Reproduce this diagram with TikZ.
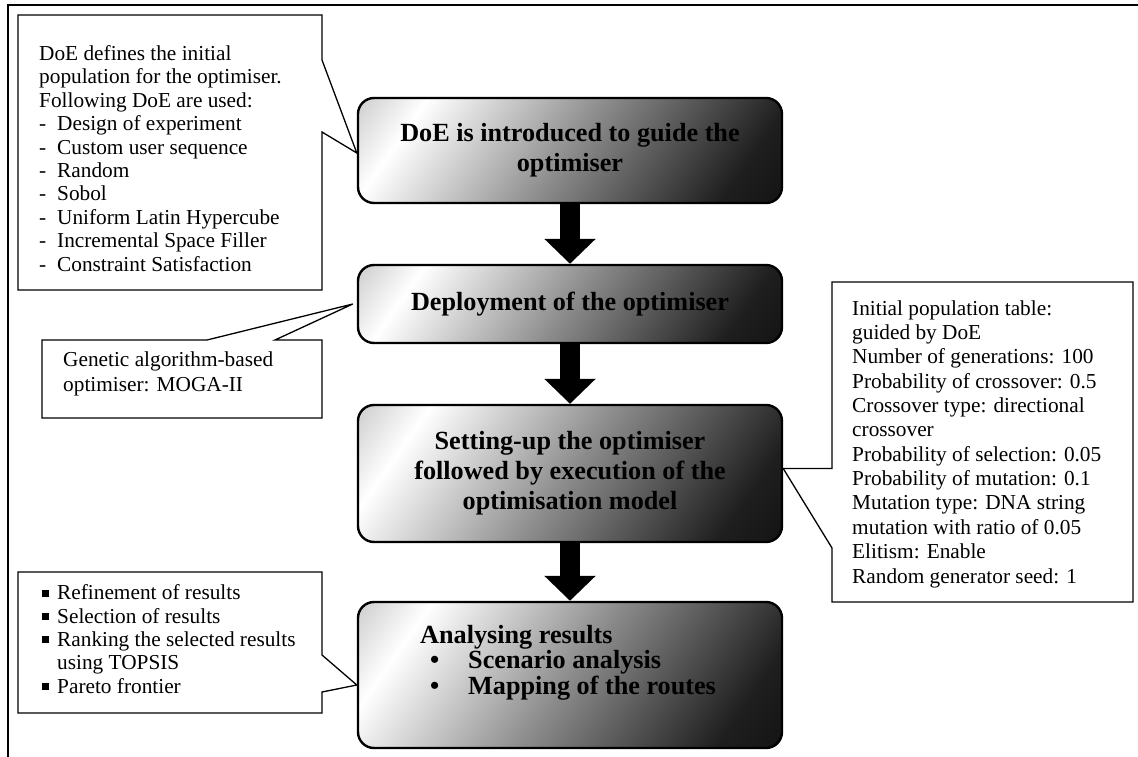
\documentclass[tikz,border=0pt]{standalone}
\usepackage{fontspec}
\setmainfont{Liberation Serif}
\usetikzlibrary{arrows.meta,calc}
\pgfdeclarehorizontalshading{boxshade}{100bp}{color(0bp)=(black!50); color(25bp)=(white); color(50bp)=(black!45); color(76bp)=(black!88); color(100bp)=(black)}
\begin{document}
\begin{tikzpicture}[x=1pt,y=-1pt,
  procbox/.style={draw=black, line width=2.4pt, rounded corners=16pt, shade, shading=boxshade, shading angle=-35, minimum width=424pt, align=center, font=\fontsize{26.2}{30}\selectfont\bfseries, inner sep=0pt},
  callout/.style={draw=black, line width=1.3pt, fill=white},
  calltext/.style={anchor=base west, align=left, inner sep=0pt, font=\fontsize{21.3}{23.4}\selectfont},
  flowarrow/.style={line width=20pt, -{Triangle[width=50pt,length=25pt]}},
]
\useasboundingbox (0,0) rectangle (1138,757);
\fill[white] (0,0) rectangle (1138,757);
\draw[line width=2.7pt] (8,757) -- (8,5) -- (1138,5);

% process boxes
\node[procbox, minimum height=105pt] (b1) at (570,150.5) {DoE is introduced to guide the\\optimiser};
\node[procbox, minimum height=78pt] (b2) at (570,304) {Deployment of the optimiser};
\node[procbox, minimum height=137pt] (b3) at (570,473.5) {Setting-up the optimiser\\followed by execution of the\\optimisation model};
\node[procbox, minimum height=146pt] (b4) at (570,675) {};
% (base anchor of a multi-line node = baseline of its last line)
\node[anchor=base west, align=left, inner sep=0pt, font=\fontsize{26.2}{25.5}\selectfont\bfseries] (b4t) at (420,694)
  {Analysing results\\\hspace*{10pt}\makebox[38pt][l]{•}Scenario analysis\\\hspace*{10pt}\makebox[38pt][l]{•}Mapping of the routes};

% flow arrows
\draw[flowarrow] (b1.south) -- (b2.north);
\draw[flowarrow] (b2.south) -- (b3.north);
\draw[flowarrow] (b3.south) -- (b4.north);

% callout outlines
\coordinate (tip1) at ([yshift=-2.5pt]b1.west);
\coordinate (tip2) at ([xshift=-4pt]b2.west);
\coordinate (tip3) at ([yshift=5pt]b3.east);
\coordinate (tip4) at ([yshift=-10pt]b4.west);
\coordinate (c3) at (832,282);
\draw[callout] (18,15) -- (322,15) -- (322,60) -- (tip1) -- (322,132) -- (322,290) -- (18,290) -- cycle;
\draw[callout] (42,340) -- (207,340) -- (tip2) -- (275,340) -- (322,340) -- (322,418) -- (42,418) -- cycle;
\draw[callout] (c3) -- (1133,282) -- (1133,602) -- (832,602) -- (832,548) -- (tip3) -- (tip3 -| c3) -- cycle;
\draw[callout] (18,572) -- (322,572) -- (322,655) -- (tip4) -- (322,692) -- (322,713) -- (18,713) -- cycle;

% callout texts
\node[calltext] (t1) at (39,271) {DoE defines the initial\\population for the optimiser.\\Following DoE are used:\\
\makebox[18pt][l]{-}Design of experiment\\
\makebox[18pt][l]{-}Custom user sequence\\
\makebox[18pt][l]{-}Random\\
\makebox[18pt][l]{-}Sobol\\
\makebox[18pt][l]{-}Uniform Latin Hypercube\\
\makebox[18pt][l]{-}Incremental Space Filler\\
\makebox[18pt][l]{-}Constraint Satisfaction};
\node[calltext, font=\fontsize{21.3}{24.4}\selectfont] (t2) at (63,391) {Genetic algorithm-based\\optimiser: MOGA-II};
\node[calltext, font=\fontsize{21.3}{24.36}\selectfont] (t3) at (852,583) {Initial population table:\\guided by DoE\\Number of generations: 100\\Probability of crossover: 0.5\\Crossover type: directional\\crossover\\Probability of selection: 0.05\\Probability of mutation: 0.1\\Mutation type: DNA string\\mutation with ratio of 0.05\\Elitism: Enable\\Random generator seed: 1};
\node[calltext, font=\fontsize{21.3}{23.3}\selectfont] (t4) at (42,693) {\makebox[15pt][l]{\rule[3pt]{7pt}{7pt}}Refinement of results\\
\makebox[15pt][l]{\rule[3pt]{7pt}{7pt}}Selection of results\\
\makebox[15pt][l]{\rule[3pt]{7pt}{7pt}}Ranking the selected results\\
\hspace*{15pt}using TOPSIS\\
\makebox[15pt][l]{\rule[3pt]{7pt}{7pt}}Pareto frontier};
\end{tikzpicture}
\end{document}
